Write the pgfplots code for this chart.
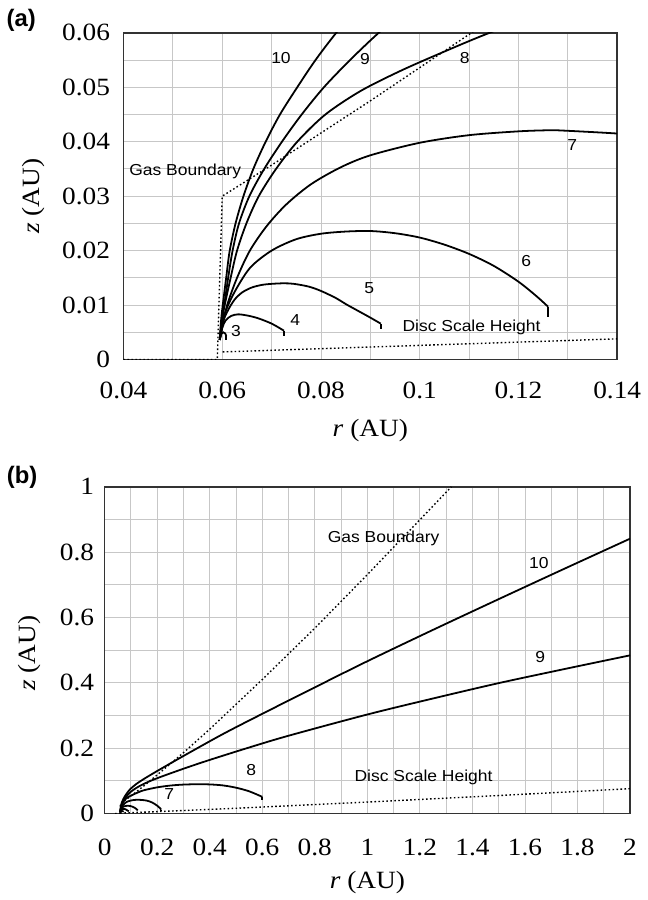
\documentclass[border=0pt]{standalone}
\usepackage{fontspec}
\setmainfont{Liberation Serif}[FakeStretch=1.1]
\newfontfamily\lsans{Liberation Sans}[FakeStretch=1.1]
\newfontfamily\lsansb{Liberation Sans}
\usepackage{pgfplots}
\usepackage{pgfplotstable}
\pgfplotsset{compat=1.18}

\pgfplotstableread{
r z
0.0595 0.0036
0.0598 0.0075
0.0602 0.0107
0.0608 0.0150
0.0615 0.0199
0.0627 0.0250
0.0643 0.0300
0.0663 0.0350
0.0688 0.0400
0.0717 0.0450
0.0752 0.0500
0.0789 0.0550
0.0831 0.0600
0.0900 0.0675
0.1000 0.0765
0.1200 0.0900
0.1500 0.1060
0.2000 0.1300
0.3000 0.1760
0.4500 0.2430
0.6000 0.3050
0.8000 0.3860
1.0000 0.4660
1.2500 0.5620
1.5000 0.6560
1.7500 0.7490
2.0000 0.8410
}\cten
\pgfplotstableread{
r z
0.0595 0.0036
0.0599 0.0075
0.0604 0.0100
0.0612 0.0150
0.0621 0.0200
0.0634 0.0250
0.0655 0.0300
0.0685 0.0350
0.0721 0.0400
0.0761 0.0450
0.0806 0.0500
0.0859 0.0550
0.0917 0.0600
0.1000 0.0665
0.1200 0.0780
0.1500 0.0910
0.2000 0.1080
0.3000 0.1370
0.4000 0.1640
0.5500 0.2020
0.7000 0.2380
1.0000 0.3030
1.2500 0.3520
1.5000 0.3990
1.7500 0.4420
2.0000 0.4840
}\cnine
\pgfplotstableread{
r z
0.0595 0.0036
0.0600 0.0075
0.0605 0.0100
0.0617 0.0150
0.0630 0.0200
0.0649 0.0250
0.0674 0.0300
0.0709 0.0350
0.0752 0.0400
0.0809 0.0450
0.0880 0.0493
0.0961 0.0530
0.1041 0.0562
0.1136 0.0598
0.1300 0.0655
0.1500 0.0713
0.2000 0.0800
0.2500 0.0855
0.3000 0.0885
0.3500 0.0895
0.4000 0.0890
0.4500 0.0860
0.5000 0.0790
0.5500 0.0680
0.6000 0.0510
}\ceight
\pgfplotstableread{
r z
0.0595 0.0036
0.0599 0.0055
0.0610 0.0100
0.0630 0.0150
0.0656 0.0200
0.0690 0.0245
0.0730 0.0285
0.0780 0.0322
0.0840 0.0353
0.0900 0.0375
0.1000 0.0398
0.1100 0.0412
0.1200 0.0419
0.1264 0.0421
0.1300 0.0420
0.1400 0.0415
0.1500 0.0408
0.1600 0.0395
0.1700 0.0372
0.1800 0.0340
0.1900 0.0295
0.2000 0.0240
0.2100 0.0170
0.2150 0.0120
}\cseven
\pgfplotstableread{
r z
0.0595 0.0036
0.0602 0.0076
0.0622 0.0119
0.0656 0.0168
0.0700 0.0200
0.0750 0.0221
0.0800 0.0231
0.0850 0.0235
0.0900 0.0236
0.0950 0.0232
0.1000 0.0224
0.1050 0.0211
0.1100 0.0194
0.1150 0.0172
0.1200 0.0143
0.1237 0.0116
0.1260 0.0097
}\csix
\pgfplotstableread{
r z
0.0595 0.0036
0.0602 0.0070
0.0612 0.0091
0.0625 0.0110
0.0640 0.0123
0.0659 0.0132
0.0680 0.0137
0.0700 0.0139
0.0725 0.0140
0.0745 0.0139
0.0775 0.0134
0.0800 0.0126
0.0830 0.0113
0.0852 0.0101
0.0880 0.0087
0.0900 0.0077
0.0921 0.0066
}\cfive
\pgfplotstableread{
r z
0.0595 0.0036
0.0600 0.0058
0.0607 0.0072
0.0618 0.0080
0.0632 0.0083
0.0650 0.0081
0.0672 0.0076
0.0700 0.0066
0.0725 0.0053
}\cfour
\pgfplotstableread{
r z
0.0595 0.0036
0.0598 0.0047
0.0602 0.0050
0.0606 0.0048
0.0608 0.0043
}\cthree
\pgfplotstableread{
r z
0.040 0.0
0.059 0.0
0.060 0.0300
0.070 0.0357
0.080 0.0416
0.090 0.0475
0.100 0.0536
0.110 0.0597
0.120 0.0659
0.150 0.0849
0.200 0.1180
0.300 0.1860
0.400 0.2580
0.600 0.4100
0.800 0.5670
1.000 0.7310
1.200 0.8990
1.320 1.0000
}\gasb
\pgfplotstableread{
r z
0.0601 0.0014
0.0800 0.0020
0.1000 0.0026
0.1200 0.0032
0.1400 0.0038
0.2000 0.0057
0.5000 0.0160
1.0000 0.0350
1.5000 0.0550
2.0000 0.0760
}\dsh

\tikzset{lab/.style={font=\lsans\fontsize{8}{9}\selectfont, inner sep=0pt}}
\pgfplotsset{
  traj/.style={black, line width=0.9pt, smooth, tension=0.5, no markers},
  enddrop/.style={black, line width=0.9pt, no markers},
  bnd/.style={black, line width=0.7pt, dash pattern=on 0.8pt off 1.2pt, no markers},
  base/.style={
    scale only axis, anchor=north west,
    grid=both,
    major grid style={draw=black!22, line width=0.45pt},
    minor grid style={draw=black!22, line width=0.45pt},
    axis line style={draw=black!80, line width=0.8pt},
    major tick length=0pt, minor tick length=0pt,
    tick label style={font=\fontsize{12.5}{14}\selectfont},
    label style={font=\fontsize{12.5}{14}\selectfont},
    /pgf/number format/assume math mode=true,
    scaled ticks=false,
    /pgf/number format/fixed,
    /pgf/number format/precision=2,
    ylabel style={anchor=center},
    xlabel style={anchor=center},
  },
}

\begin{document}
\begin{tikzpicture}
\node[font=\lsansb\bfseries\fontsize{12}{14}\selectfont] at (10pt,-10.25pt) {(a)};
\begin{axis}[base,
  at={(61.5pt,-16.5pt)}, width=248.5pt, height=164.5pt,
  xmin=0.04, xmax=0.14, ymin=0, ymax=0.06,
  xtick={0.04,0.06,0.08,0.1,0.12,0.14},
  minor xtick={0.05,0.07,0.09,0.11,0.13},
  ytick={0,0.01,0.02,0.03,0.04,0.05,0.06},
  minor ytick={0.005,0.015,0.025,0.035,0.045,0.055},
  xticklabel style={yshift=-7.8pt},
  yticklabel style={xshift=-3.3pt},
  xlabel={\textit{r} (AU)},
  ylabel={\textit{z} (AU)},
  xlabel style={at={(axis description cs:0.5,-0.218)}},
  ylabel style={at={(axis description cs:-0.183,0.5)}},
]
\addplot[bnd] table {\gasb};
\addplot[bnd] table {\dsh};
\addplot[traj] table {\cten};
\addplot[traj] table {\cnine};
\addplot[traj] table {\ceight};
\addplot[traj] table {\cseven};
\addplot[traj] table {\csix};
\addplot[enddrop] coordinates {(0.1260,0.0097) (0.1260,0.0078)};
\addplot[traj] table {\cfive};
\addplot[enddrop] coordinates {(0.0921,0.0066) (0.0921,0.0056)};
\addplot[traj] table {\cfour};
\addplot[enddrop] coordinates {(0.0725,0.0053) (0.0725,0.0044)};
\addplot[traj] table {\cthree};
\addplot[enddrop] coordinates {(0.0608,0.0043) (0.0608,0.0035)};
\node[lab] at (axis cs:0.0719,0.0554) {10};
\node[lab] at (axis cs:0.0889,0.0552) {9};
\node[lab] at (axis cs:0.1091,0.0554) {8};
\node[lab] at (axis cs:0.1309,0.0394) {7};
\node[lab] at (axis cs:0.1216,0.0181) {6};
\node[lab] at (axis cs:0.0898,0.0131) {5};
\node[lab] at (axis cs:0.0748,0.0073) {4};
\node[lab] at (axis cs:0.0628,0.0052) {3};
\node[lab] at (axis cs:0.0525,0.0346) {Gas Boundary};
\node[lab] at (axis cs:0.1105,0.0059) {Disc Scale Height};
\end{axis}

\node[font=\lsansb\bfseries\fontsize{12}{14}\selectfont] at (10.5pt,-240.5pt) {(b)};
\begin{axis}[base,
  at={(52pt,-245pt)}, width=264.5pt, height=164.5pt,
  xmin=0, xmax=2, ymin=0, ymax=1,
  xtick={0,0.2,0.4,0.6,0.8,1,1.2,1.4,1.6,1.8,2},
  minor xtick={0.1,0.3,0.5,0.7,0.9,1.1,1.3,1.5,1.7,1.9},
  ytick={0,0.2,0.4,0.6,0.8,1},
  minor ytick={0.1,0.3,0.5,0.7,0.9},
  xticklabel style={yshift=-9.5pt},
  yticklabel style={xshift=-1.8pt},
  xlabel={\textit{r} (AU)},
  ylabel={\textit{z} (AU)},
  xlabel style={at={(axis description cs:0.5,-0.21)}},
  ylabel style={at={(axis description cs:-0.142,0.49)}},
]
\addplot[bnd] table {\gasb};
\addplot[bnd] table {\dsh};
\addplot[traj] table {\cten};
\addplot[traj] table {\cnine};
\addplot[traj] table {\ceight};
\addplot[enddrop] coordinates {(0.6,0.051) (0.6,0.041)};
\addplot[traj] table {\cseven};
\addplot[enddrop] coordinates {(0.215,0.012) (0.215,0.008)};
\addplot[traj] table {\csix};
\addplot[traj] table {\cfive};
\addplot[traj] table {\cfour};
\addplot[traj] table {\cthree};
\node[lab] at (axis cs:1.062,0.843) {Gas Boundary};
\node[lab] at (axis cs:1.653,0.767) {10};
\node[lab] at (axis cs:1.658,0.479) {9};
\node[lab] at (axis cs:0.558,0.1345) {8};
\node[lab] at (axis cs:0.246,0.0586) {7};
\node[lab] at (axis cs:1.214,0.111) {Disc Scale Height};
\end{axis}
\path (0pt,0pt) rectangle (323pt,-450pt);
\end{tikzpicture}
\end{document}
